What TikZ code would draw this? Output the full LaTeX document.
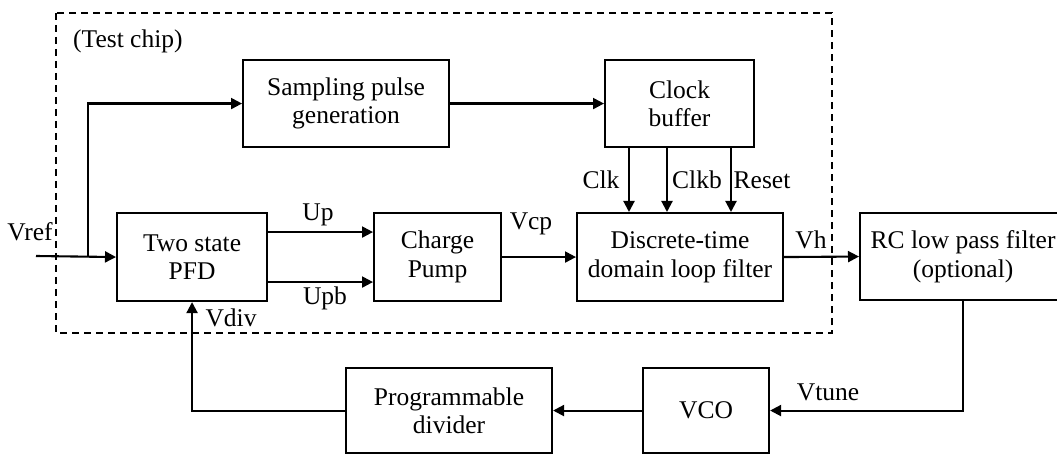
\documentclass[tikz,border=0pt]{standalone}
\usepackage{fontspec}
\setmainfont{Liberation Serif}
\usetikzlibrary{arrows.meta}
\begin{document}
\begin{tikzpicture}[x=1pt,y=1pt,
  every node/.style={font=\fontsize{25.5}{28.5}\selectfont},
  block/.style={draw,line width=2.1pt,anchor=north west,inner sep=0pt,align=center},
  wire/.style={line width=2.1pt},
  sig/.style={wire,-{Triangle[length=11pt,width=11pt]}},
  lbl/.style={inner sep=0pt},
  chip/.style={line width=1.6pt,dash pattern=on 7pt off 5pt}]
\useasboundingbox (0,0) rectangle (1057,-454);
\clip (0,0) rectangle (1057,-454);

% test chip outline
\draw[chip] (56,-13) rectangle (832,-333);
\node[lbl,anchor=west] (chiplbl) at (73,-41) {(Test chip)};

% blocks
\node[block,minimum width=206pt,minimum height=87pt] (samp) at (242,-59) {Sampling pulse\\generation};
\node[block,minimum width=149pt,minimum height=87pt] (clkbuf) at (604,-59) {Clock\\buffer};
\node[block,minimum width=150pt,minimum height=88pt] (pfd) at (116,-212) {Two state\\PFD};
\node[block,minimum width=127pt,minimum height=88pt] (cp) at (373,-212) {Charge\\Pump};
\node[block,minimum width=206pt,minimum height=88pt] (dtf) at (576,-212) {Discrete-time\\domain loop filter};
\node[block,minimum width=206pt,minimum height=87pt] (rc) at (859,-212) {RC low pass filter\\(optional)};
\node[block,minimum width=206pt,minimum height=85pt] (div) at (345,-367) {Programmable\\divider};
\node[block,minimum width=126pt,minimum height=85pt] (vco) at (642,-367) {VCO};

% reference input and branch
\coordinate (vin) at (36,-256);
\coordinate (br) at (88,-256);
\draw[sig] (vin) -- (pfd.west);
\draw[sig] (br) |- (samp.west);
\node[lbl] (vref) at (30,-232) {Vref};

% sampling path
\draw[sig] (samp.east) -- (clkbuf.west);

% PFD outputs
\draw[sig] ([yshift=25pt]pfd.east) -- ([yshift=25pt]cp.west);
\draw[sig] ([yshift=-25pt]pfd.east) -- ([yshift=-25pt]cp.west);
\node[lbl] (up) at (318,-215) {Up};
\node[lbl] (upb) at (325,-298) {Upb};

% charge pump to loop filter
\draw[sig] (cp.east) -- (dtf.west);
\node[lbl] (vcp) at (531,-224) {Vcp};

% clock buffer outputs
\foreach \dx in {25,63,127}
  \draw[sig] ([xshift=\dx pt]clkbuf.south west) -- ([xshift=\dx pt]clkbuf.south west |- dtf.north);
\node[lbl] (clk) at (601,-180) {Clk};
\node[lbl] (clkb) at (697,-180) {Clkb};
\node[lbl] (reset) at (762,-180) {Reset};

% loop filter to RC filter
\draw[sig] (dtf.east) -- (rc.west);
\node[lbl] (vh) at (811,-240) {Vh};

% feedback path
\draw[sig] (rc.south) |- (vco.east);
\node[lbl] (vtune) at (828,-392) {Vtune};
\draw[sig] (vco.west) -- (div.east);
\draw[sig] (div.west) -| (pfd.south);
\node[lbl] (vdiv) at (231,-318) {Vdiv};
\end{tikzpicture}
\end{document}
